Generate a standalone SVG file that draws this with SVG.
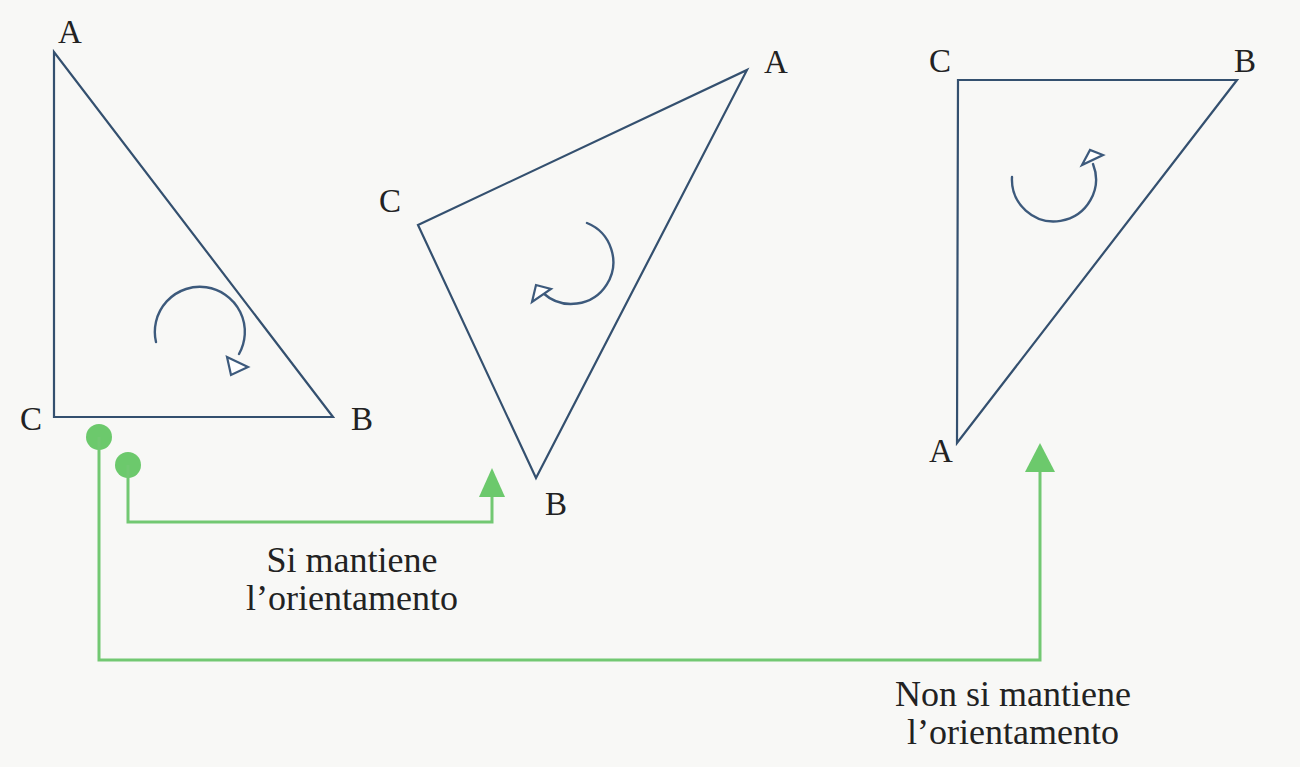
<svg xmlns="http://www.w3.org/2000/svg" width="1300" height="767" viewBox="0 0 1300 767">
<style>
.tri{fill:none;stroke:#34506f;stroke-width:2.2;stroke-linejoin:miter}
.rot{fill:none;stroke:#3d5a7c;stroke-width:2.4;stroke-linecap:round}
.head{fill:#ffffff;stroke:#3d5a7c;stroke-width:2.2;stroke-linejoin:miter}
.lbl{font-family:"Liberation Serif","Times New Roman",serif;font-size:33px;fill:#222222}
.cap{font-family:"Liberation Serif","Times New Roman",serif;font-size:36px;fill:#222222;text-anchor:middle}
.wire{fill:none;stroke:#72c872;stroke-width:3}
.dot{fill:#6cc96c}
</style>
<rect width="1300" height="767" fill="#f8f8f6"/>
<g id="triangle1">
<polygon class="tri" points="54,52 54,417 333,417"/>
<path class="rot" d="M156,342 A45,45 0 1 1 239,354"/>
<polygon class="head" points="227,357 248,367 231,375"/>
<text class="lbl" x="58" y="43">A</text>
<text class="lbl" x="20" y="430">C</text>
<text class="lbl" x="351" y="430">B</text>
</g>
<g id="triangle2">
<polygon class="tri" points="418,225 747,70 536,478"/>
<path class="rot" d="M587,223 A42,42 0 1 1 543,293"/>
<polygon class="head" points="532,302 536,285 551,289"/>
<text class="lbl" x="379" y="212">C</text>
<text class="lbl" x="764" y="73">A</text>
<text class="lbl" x="545" y="515">B</text>
</g>
<g id="triangle3">
<polygon class="tri" points="958,80 1237,80 957,443"/>
<path class="rot" d="M1012,177 A42,42 0 1 0 1093,164"/>
<polygon class="head" points="1082,165 1090,150 1103,155"/>
<text class="lbl" x="929" y="72">C</text>
<text class="lbl" x="1234" y="72">B</text>
<text class="lbl" x="929" y="462">A</text>
</g>
<g id="connectors">
<g id="conn-keep">
<circle class="dot" cx="128" cy="465" r="13"/>
<polyline class="wire" points="128,465 128,522 492,522 492,494"/>
<polygon class="dot" points="492,468 479,497 505,497"/>
</g>
<g id="conn-notkeep">
<circle class="dot" cx="99" cy="437" r="13"/>
<polyline class="wire" points="99,437 99,660 1040,660 1040,470"/>
<polygon class="dot" points="1040,443 1025,472 1055,472"/>
</g>
</g>
<g id="label-keep">
<text class="cap" x="352" y="572">Si mantiene</text>
<text class="cap" x="352" y="610">l’orientamento</text>
</g>
<g id="label-notkeep">
<text class="cap" x="1013" y="706">Non si mantiene</text>
<text class="cap" x="1013" y="744">l’orientamento</text>
</g>
</svg>
